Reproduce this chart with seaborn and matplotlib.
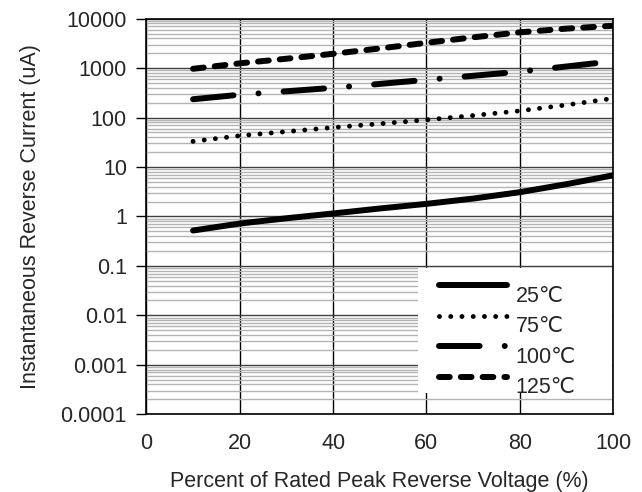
import numpy as np
import pandas as pd
import matplotlib
matplotlib.use("Agg")
import matplotlib.pyplot as plt
import seaborn as sns
from matplotlib.ticker import LogLocator, FixedLocator, NullFormatter
from matplotlib.patches import Rectangle
from matplotlib.transforms import Affine2D

# -----------------------------
# DATA
# -----------------------------
voltage_pct = [10, 20, 30, 40, 50, 60, 70, 80, 90, 100]
i_25c = [0.52, 0.72, 0.92, 1.15, 1.45, 1.8, 2.3, 3.1, 4.5, 6.8]
i_75c = [33, 43, 52, 63, 75, 90, 110, 137, 180, 245]
i_100c = [235, 290, 340, 400, 480, 580, 700, 850, 1080, 1380]
i_125c = [970, 1250, 1550, 1950, 2500, 3250, 4200, 5300, 6300, 7200]
series_names = ["25℃", "75℃", "100℃", "125℃"]

y_ticks = [0.0001, 0.001, 0.01, 0.1, 1, 10, 100, 1000, 10000]
y_tick_labels = ["0.0001", "0.001", "0.01", "0.1", "1", "10", "100", "1000", "10000"]
x_ticks = [0, 20, 40, 60, 80, 100]

df = pd.DataFrame({
    "x": voltage_pct * 4,
    "y": i_25c + i_75c + i_100c + i_125c,
    "series": np.repeat(series_names, len(voltage_pct)),
})

# -----------------------------
# PLOT
# -----------------------------
sns.set_style("white")
plt.rcParams["font.family"] = ["Liberation Sans", "DejaVu Sans"]
FS = 15.5

fig, ax = plt.subplots(figsize=(6.42, 4.92), dpi=100)
fig.subplots_adjust(left=0.228, right=0.955, top=0.962, bottom=0.158)

dash_styles = {
    "25℃": "",
    "75℃": (0.01, 2.3),
    "100℃": (6.8, 4.2, 0.01, 4.2),
    "125℃": (1.8, 1.85),
}
widths = {"25℃": 4.3, "75℃": 3.5, "100℃": 4.3, "125℃": 4.3}
sns.lineplot(data=df, x="x", y="y", hue="series", style="series",
             palette=["black"] * 4, dashes=dash_styles, linewidth=4.3,
             ax=ax, legend=True)
for line, name in zip(ax.get_lines(), series_names):
    line.set_linewidth(widths[name])
    line.set_dash_capstyle("round")
    line.set_solid_capstyle("round")

ax.set_yscale("log")
ax.set_xlim(0, 100)
ax.set_ylim(1e-4, 1e4)

ax.yaxis.set_major_locator(FixedLocator(y_ticks))
ax.set_yticklabels(y_tick_labels)
ax.yaxis.set_minor_locator(LogLocator(base=10, subs=np.arange(2, 10), numticks=100))
ax.yaxis.set_minor_formatter(NullFormatter())
ax.set_xticks(x_ticks)

ax.grid(which="minor", axis="y", color="#b4b4b4", linewidth=1.0)
ax.grid(which="major", axis="y", color="#404040", linewidth=1.0)
ax.grid(which="major", axis="x", color="black", linewidth=1.0)
ax.set_axisbelow(True)

for sp in ax.spines.values():
    sp.set_color("black")
    sp.set_linewidth(1.2)

ax.tick_params(axis="y", which="major", direction="out", length=7, width=1,
               color="black", left=True, labelsize=FS, pad=7)
ax.tick_params(axis="y", which="minor", left=False)
ax.tick_params(axis="x", bottom=False, labelsize=FS, pad=10)

ax.set_xlabel("Percent of Rated Peak Reverse Voltage (%)", fontsize=FS, labelpad=12)
ax.set_ylabel("Instantaneous Reverse Current (uA)", fontsize=FS, labelpad=14)

# white legend panel (wider than its content, like the original)
ax.add_patch(Rectangle((0.582, 0.053), 0.416, 0.317, transform=ax.transAxes,
                       facecolor="white", edgecolor="none", zorder=2.5))

leg = ax.legend(loc="upper left", bbox_to_anchor=(0.626, 0.325), frameon=False,
                fontsize=FS, handlelength=3.2, handletextpad=0.37,
                labelspacing=0.44, borderpad=0.0, borderaxespad=0.0)
leg.set_zorder(5)
for h, name in zip(leg.get_lines(), series_names):
    h.set_linewidth(widths[name])
    h.set_dash_capstyle("round")
    h.set_solid_capstyle("round")
    # line sits a little above its label in the original
    h.set_transform(h.get_transform() + Affine2D().translate(0, 9))

fig.savefig("out.png", dpi=100)
